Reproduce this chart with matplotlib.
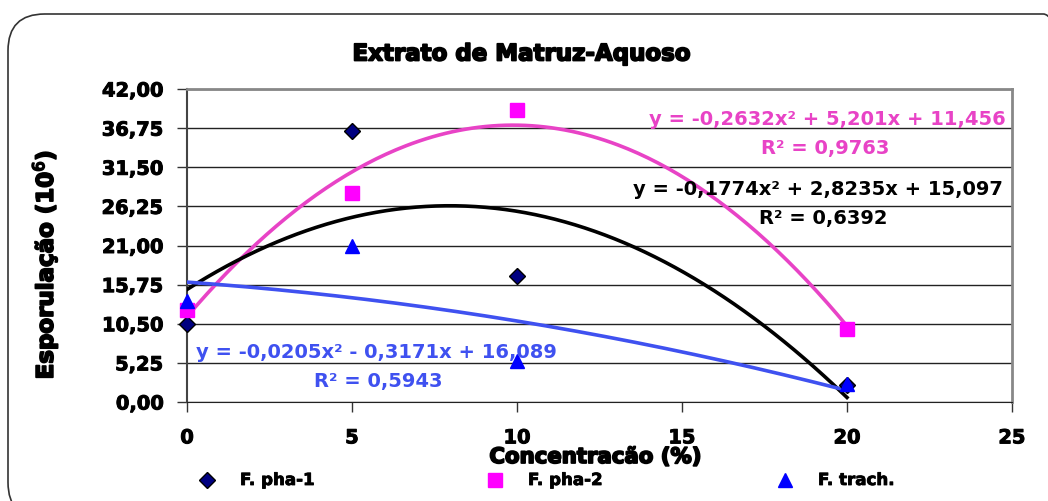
import numpy as np
import matplotlib
matplotlib.use("Agg")
import matplotlib.pyplot as plt
from matplotlib.patches import FancyBboxPatch
import matplotlib.patheffects as pe

# ---- data ----
conc = [0, 5, 10, 20]
pha1 = [10.5, 36.4, 16.9, 2.3]
pha2 = [12.3, 28.0, 39.2, 9.8]
trach = [13.5, 20.9, 5.5, 2.4]

coef_pha1 = [-0.1774, 2.8235, 15.097]
coef_pha2 = [-0.2632, 5.201, 11.456]
coef_trach = [-0.0205, -0.3171, 16.089]

eq_pha1 = "y = -0,1774x² + 2,8235x + 15,097"
r2_pha1 = "R² = 0,6392"
eq_pha2 = "y = -0,2632x² + 5,201x + 11,456"
r2_pha2 = "R² = 0,9763"
eq_trach = "y = -0,0205x² - 0,3171x + 16,089"
r2_trach = "R² = 0,5943"

yticks = [0, 5.25, 10.5, 15.75, 21.0, 26.25, 31.5, 36.75, 42.0]
xticks = [0, 5, 10, 15, 20, 25]

plt.rcParams['font.family'] = ['DejaVu Sans']

fig = plt.figure(figsize=(10.48, 5.02), dpi=100)
fig.patch.set_facecolor('white')

# rounded frame
frame = FancyBboxPatch((8 / 1048, (502 - 520) / 502), (1080 - 8) / 1048, (520 - 15) / 502,
                       boxstyle="round,pad=0,rounding_size=0.035", transform=fig.transFigure,
                       fill=False, edgecolor='#333333', linewidth=1.2, clip_on=False,
                       mutation_aspect=1048 / 502)
fig.patches.append(frame)

ax = fig.add_axes([187 / 1048, 1 - 403 / 502, (1012 - 187) / 1048, (403 - 90) / 502])
ax.set_xlim(0, 25)
ax.set_ylim(0, 42)

thick = [pe.withStroke(linewidth=0.7, foreground='black')]
ax.set_yticks(yticks)
ax.set_yticklabels([f"{v:.2f}".replace('.', ',') for v in yticks])
ax.set_xticks(xticks)
ax.set_xticklabels([str(v) for v in xticks])
ax.tick_params(axis='both', direction='out', length=7, width=1, color='#333333',
               labelsize=14)
ax.tick_params(axis='y', pad=10)
ax.tick_params(axis='x', pad=12)
for lab in ax.get_xticklabels() + ax.get_yticklabels():
    lab.set_fontweight('bold')
    lab.set_path_effects(thick)

ax.yaxis.grid(True, color='#222222', linewidth=1)
ax.set_axisbelow(True)
for s in ['top', 'right']:
    ax.spines[s].set_color('#888888')
    ax.spines[s].set_linewidth(2)
ax.spines['left'].set_color('#444444')
ax.spines['left'].set_linewidth(1.5)
ax.spines['bottom'].set_color('#222222')

xs = np.linspace(0, 20, 200)
c_black = '#000000'
c_pink = '#E843C6'
c_blue = '#3F51F0'
ax.plot(xs, np.polyval(coef_pha2, xs), color=c_pink, lw=2.6, zorder=3)
ax.plot(xs, np.polyval(coef_pha1, xs), color=c_black, lw=2.6, zorder=3)
ax.plot(xs, np.polyval(coef_trach, xs), color=c_blue, lw=2.6, zorder=3)

ax.plot(conc, pha1, 'D', ms=8, mfc='#000080', mec='black', mew=1, ls='none', zorder=4, clip_on=False)
ax.plot(conc, pha2, 's', ms=10, mfc='#FF00FF', mec='#FF00FF', ls='none', zorder=4, clip_on=False)
ax.plot(conc, trach, '^', ms=10, mfc='#0000FF', mec='#0000FF', ls='none', zorder=5, clip_on=False)

tkw = dict(fontsize=14, fontweight='bold', zorder=6)
ax.text(24.82, 38.1, eq_pha2, color=c_pink, ha='right', va='center', **tkw)
ax.text(19.33, 34.2, r2_pha2, color=c_pink, ha='center', va='center', **tkw)
ax.text(24.73, 28.6, eq_pha1, color=c_black, ha='right', va='center', **tkw)
ax.text(19.27, 24.8, r2_pha1, color=c_black, ha='center', va='center', **tkw)
ax.text(0.27, 6.84, eq_trach, color=c_blue, ha='left', va='center', **tkw)
ax.text(5.79, 2.95, r2_trach, color=c_blue, ha='center', va='center', **tkw)

heavy = [pe.withStroke(linewidth=1.3, foreground='black')]
fig.text(521 / 1048, 1 - 55 / 502, "Extrato de Matruz-Aquoso", ha='center', va='center',
         fontsize=16.5, fontweight='bold', path_effects=heavy)
fig.text(45 / 1048, 1 - 266 / 502, "Esporulação (10$^6$)", ha='center', va='center',
         rotation=90, fontsize=16.5, fontweight='bold', path_effects=heavy)
fig.text(595 / 1048, 1 - 458 / 502, "Concentracão (%)", ha='center', va='center',
         fontsize=15.3, fontweight='bold', path_effects=heavy)

# legend
items = [(207, 'D', 8, '#000080', 'black', 'F. pha-1'),
         (495, 's', 10, '#FF00FF', '#FF00FF', 'F. pha-2'),
         (785, '^', 10, '#0000FF', '#0000FF', 'F. trach.')]
lax = fig.add_axes([0, 0, 1, 1], facecolor='none')
lax.set_xlim(0, 1048)
lax.set_ylim(502, 0)
lax.axis('off')
for px, m, ms, fc, ec, lbl in items:
    lax.plot([px], [481], m, ms=ms, mfc=fc, mec=ec, mew=1)
    lax.text(px + 33, 481, lbl, ha='left', va='center', fontsize=12, fontweight='bold',
             path_effects=[pe.withStroke(linewidth=0.6, foreground='black')])

fig.savefig('out.png', dpi=100, facecolor='white')
